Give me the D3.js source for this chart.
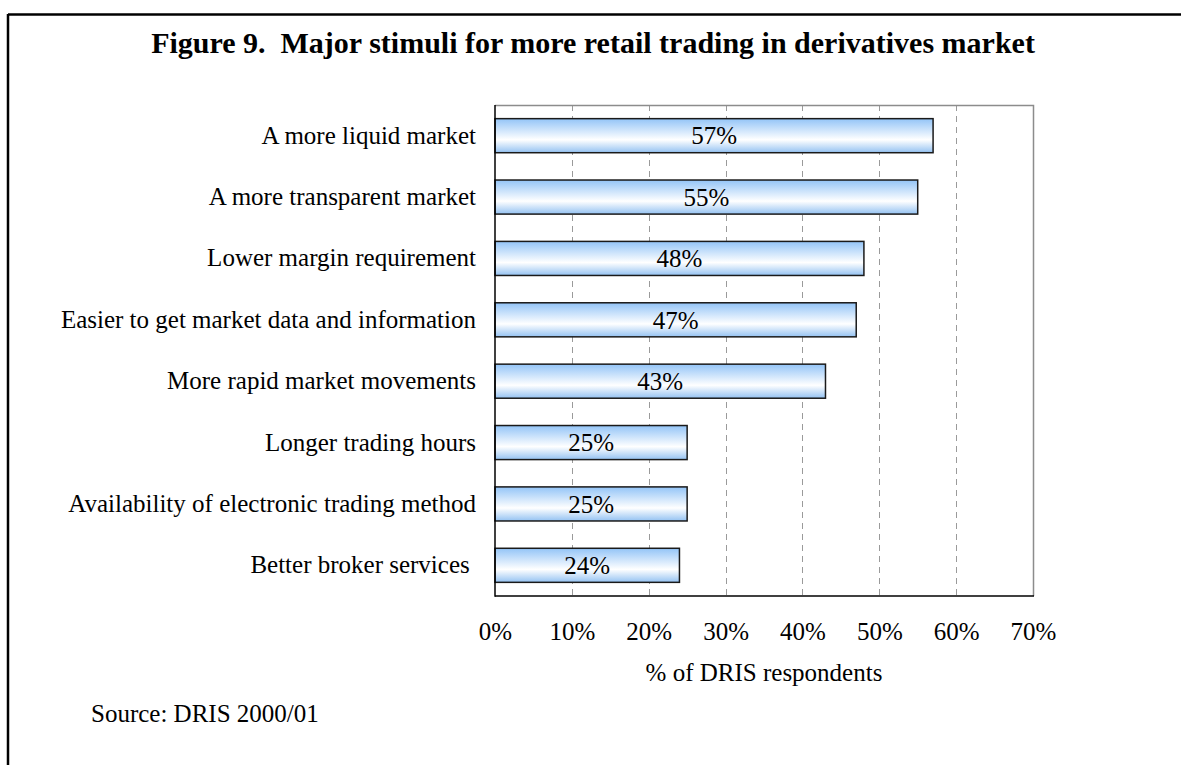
<!DOCTYPE html>
<html>
<head>
<meta charset="utf-8">
<script src="https://cdn.jsdelivr.net/npm/d3@7"></script>
<style>
  html, body { margin: 0; padding: 0; background: #fff; }
  svg { display: block; }
  text { font-family: "Liberation Serif", "Times New Roman", serif; fill: #000; white-space: pre; }
</style>
</head>
<body>
<svg id="chart" width="1181" height="765"></svg>
<script>
// Survey responses: share of respondents naming each stimulus
const categories = [
  "A more liquid market",
  "A more transparent market",
  "Lower margin requirement",
  "Easier to get market data and information",
  "More rapid market movements",
  "Longer trading hours",
  "Availability of electronic trading method",
  "Better broker services "
];
const values = [57, 55, 48, 47, 43, 25, 25, 24];
const xTicks = [0, 10, 20, 30, 40, 50, 60, 70];

const titleText = "Figure 9.  Major stimuli for more retail trading in derivatives market";
const xAxisTitle = "% of DRIS respondents";
const sourceText = "Source: DRIS 2000/01";

const FS = 25;
const svg = d3.select("#chart");

// Outer frame (left and top edges visible)
svg.append("line").attr("x1", 8).attr("x2", 8).attr("y1", 14).attr("y2", 765)
  .attr("stroke", "#000").attr("stroke-width", 2.5);
svg.append("line").attr("x1", 8).attr("x2", 1181).attr("y1", 14.5).attr("y2", 14.5)
  .attr("stroke", "#000").attr("stroke-width", 2.5);

const plot = { left: 495, right: 1033, top: 105, bottom: 596 };

const x = d3.scaleLinear().domain([0, 70]).range([plot.left, plot.right]);
const y = d3.scaleBand().domain(categories)
  .range([plot.top, plot.bottom])
  .paddingInner(0.445).paddingOuter(0.2225);

// Bar gradient
const defs = svg.append("defs");
const grad = defs.append("linearGradient").attr("id", "barGrad")
  .attr("x1", 0).attr("y1", 0).attr("x2", 0).attr("y2", 1);
grad.append("stop").attr("offset", "0%").attr("stop-color", "#93c4f7");
grad.append("stop").attr("offset", "62%").attr("stop-color", "#ffffff");
grad.append("stop").attr("offset", "100%").attr("stop-color", "#94c2f2");

// Title
svg.append("text").attr("x", 593).attr("y", 53)
  .attr("text-anchor", "middle").attr("font-weight", "bold")
  .attr("font-size", 30).text(titleText);

// Grid lines
svg.append("g").selectAll("line").data(xTicks.filter(t => t > 0 && t < 70)).join("line")
  .attr("x1", d => Math.round(x(d)) + 0.5).attr("x2", d => Math.round(x(d)) + 0.5)
  .attr("y1", plot.top).attr("y2", plot.bottom)
  .attr("stroke", "#9a9a9a").attr("stroke-width", 1)
  .attr("stroke-dasharray", "6,5");

// Top and right frame of the plot area
svg.append("path")
  .attr("d", `M${plot.left},${plot.top + 0.5}H${plot.right + 0.5}V${plot.bottom}`)
  .attr("fill", "none").attr("stroke", "#8c8c8c").attr("stroke-width", 1.5);

// Bars
const bars = svg.append("g");
bars.selectAll("rect").data(values).join("rect")
  .attr("x", x(0))
  .attr("y", (d, i) => y(categories[i]))
  .attr("width", d => x(d) - x(0))
  .attr("height", y.bandwidth())
  .attr("fill", "url(#barGrad)")
  .attr("stroke", "#1a1a1a").attr("stroke-width", 1.5);

// Value labels centred in each bar
svg.append("g").selectAll("text").data(values).join("text")
  .attr("x", d => (x(0) + x(d)) / 2)
  .attr("y", (d, i) => y(categories[i]) + y.bandwidth() / 2)
  .attr("dy", "0.35em")
  .attr("text-anchor", "middle").attr("font-size", FS)
  .text(d => d + "%");

// Axes lines (left and bottom)
svg.append("line").attr("x1", plot.left).attr("x2", plot.left)
  .attr("y1", plot.top).attr("y2", plot.bottom + 0.75)
  .attr("stroke", "#000").attr("stroke-width", 1.5);
svg.append("line").attr("x1", plot.left).attr("x2", plot.right + 1)
  .attr("y1", plot.bottom).attr("y2", plot.bottom)
  .attr("stroke", "#000").attr("stroke-width", 1.5);

// Category labels
const yAxis = d3.axisLeft(y).tickSize(0).tickPadding(19);
const gy = svg.append("g").attr("transform", `translate(${plot.left},0)`).call(yAxis);
gy.select(".domain").remove();
gy.selectAll("text").attr("font-size", FS)
  .attr("font-family", "'Liberation Serif', 'Times New Roman', serif");

// Tick labels
const xAxis = d3.axisBottom(x).tickValues(xTicks).tickSize(0).tickPadding(26)
  .tickFormat(d => d + "%");
const gx = svg.append("g").attr("transform", `translate(0,${plot.bottom})`).call(xAxis);
gx.select(".domain").remove();
gx.selectAll("text").attr("font-size", FS)
  .attr("font-family", "'Liberation Serif', 'Times New Roman', serif");

// Axis title
svg.append("text").attr("x", 764).attr("y", 681)
  .attr("text-anchor", "middle").attr("font-size", FS).text(xAxisTitle);

// Source note
svg.append("text").attr("x", 91).attr("y", 722)
  .attr("font-size", FS).text(sourceText);
</script>
</body>
</html>
